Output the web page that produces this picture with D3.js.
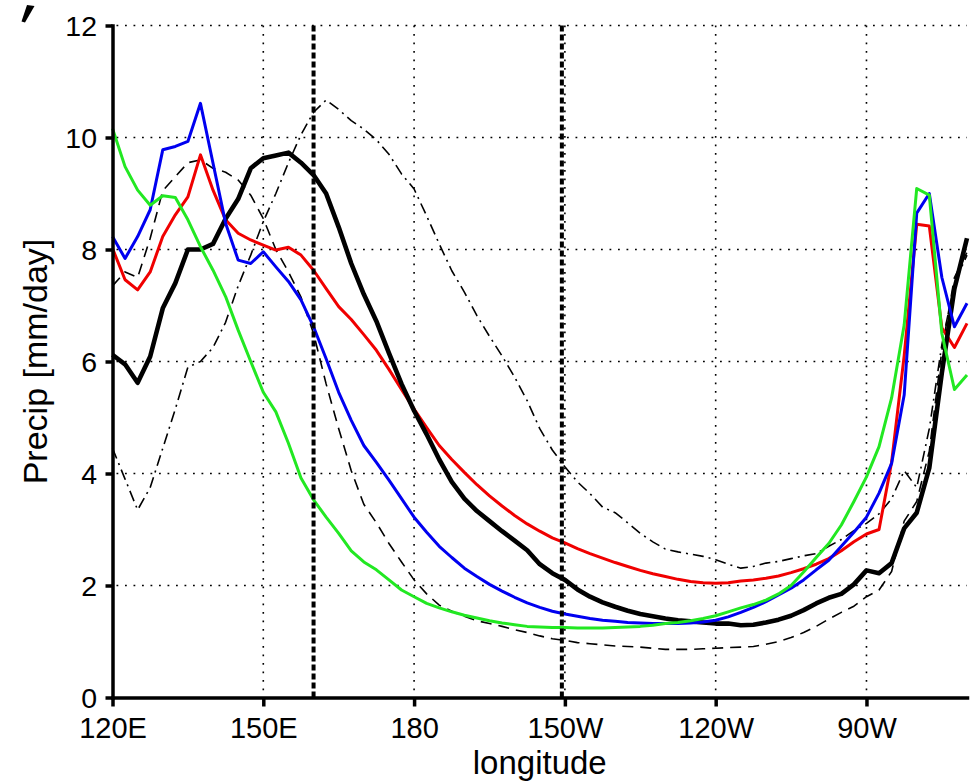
<!DOCTYPE html>
<html>
<head>
<meta charset="utf-8">
<script src="https://cdn.jsdelivr.net/npm/d3@7"></script>
<style>
  body { margin: 0; background: #fff; }
  svg { display: block; font-family: "Liberation Sans", Arial, Helvetica, sans-serif; }
  .grid line { stroke: #000; stroke-width: 1.6; stroke-dasharray: 1.8 6.7; }
</style>
</head>
<body>
<div id="chart"></div>
<script>
// longitude grid (degrees east), 2.5 degree spacing
const lon = [120, 122.5, 125, 127.5, 130, 132.5, 135, 137.5, 140, 142.5, 145, 147.5, 150, 152.5, 155, 157.5,
  160, 162.5, 165, 167.5, 170, 172.5, 175, 177.5, 180, 182.5, 185, 187.5, 190, 192.5, 195, 197.5,
  200, 202.5, 205, 207.5, 210, 212.5, 215, 217.5, 220, 222.5, 225, 227.5, 230, 232.5, 235, 237.5,
  240, 242.5, 245, 247.5, 250, 252.5, 255, 257.5, 260, 262.5, 265, 267.5, 270, 272.5, 275, 277.5,
  280, 282.5, 285, 287.5, 290];

// precipitation [mm/day]
const precipBlack = [6.12, 5.95, 5.62, 6.09, 6.95, 7.4, 8.0, 8.0, 8.1, 8.55, 8.9, 9.45, 9.63, 9.68, 9.73, 9.55,
  9.33, 9.0, 8.4, 7.75, 7.2, 6.72, 6.15, 5.6, 5.12, 4.7, 4.25, 3.85, 3.55, 3.33, 3.15, 2.97,
  2.8, 2.63, 2.38, 2.22, 2.1, 1.93, 1.8, 1.7, 1.62, 1.55, 1.49, 1.45, 1.41, 1.38, 1.36, 1.34,
  1.32, 1.32, 1.29, 1.3, 1.34, 1.39, 1.46, 1.56, 1.68, 1.78, 1.85, 2.02, 2.27, 2.22, 2.4, 3.02,
  3.3, 4.1, 5.8, 7.3, 8.2];
const precipRed = [8.02, 7.46, 7.28, 7.6, 8.23, 8.62, 8.94, 9.69, 9.06, 8.53, 8.29, 8.17, 8.08, 7.99, 8.04, 7.9,
  7.63, 7.3, 6.98, 6.75, 6.48, 6.2, 5.86, 5.5, 5.15, 4.82, 4.5, 4.25, 4.02, 3.8, 3.6, 3.42,
  3.25, 3.1, 2.97, 2.85, 2.76, 2.66, 2.57, 2.49, 2.41, 2.34, 2.27, 2.21, 2.16, 2.11, 2.07, 2.05,
  2.04, 2.05, 2.08, 2.1, 2.13, 2.17, 2.23, 2.3, 2.38, 2.48, 2.62, 2.78, 2.92, 3.0, 4.2, 6.1,
  8.45, 8.42, 6.6, 6.25, 6.68];
const precipBlue = [8.23, 7.84, 8.23, 8.71, 9.78, 9.84, 9.93, 10.61, 9.54, 8.47, 7.81, 7.75, 7.96, 7.69, 7.43, 7.1,
  6.62, 6.05, 5.45, 4.95, 4.5, 4.2, 3.88, 3.55, 3.22, 2.95, 2.7, 2.5, 2.31, 2.16, 2.02, 1.9,
  1.79, 1.69, 1.61, 1.54, 1.49, 1.45, 1.41, 1.38, 1.36, 1.34, 1.33, 1.32, 1.32, 1.32, 1.33, 1.35,
  1.38, 1.44, 1.52, 1.61, 1.71, 1.83, 1.95, 2.1, 2.28, 2.45, 2.7, 2.95, 3.22, 3.65, 4.18, 5.4,
  8.65, 9.0, 7.5, 6.62, 7.04];
const precipGreen = [10.16, 9.48, 9.06, 8.79, 8.96, 8.93, 8.53, 8.05, 7.63, 7.16, 6.56, 6.0, 5.45, 5.1, 4.54, 3.92,
  3.53, 3.22, 2.93, 2.62, 2.42, 2.28, 2.1, 1.92, 1.8, 1.68, 1.6, 1.53, 1.47, 1.42, 1.37, 1.33,
  1.3, 1.27, 1.26, 1.25, 1.25, 1.24, 1.24, 1.24, 1.25, 1.26, 1.27, 1.29, 1.32, 1.34, 1.37, 1.41,
  1.46, 1.53, 1.6, 1.66, 1.74, 1.85, 2.0, 2.24, 2.5, 2.75, 3.08, 3.5, 3.94, 4.48, 5.35, 6.65,
  9.09, 8.97, 6.5, 5.5, 5.76];
const precipDashed = [7.35, 7.6, 7.5, 8.2, 9.05, 9.3, 9.55, 9.6, 9.45, 9.38, 9.24, 8.97, 8.55, 8.0, 7.6, 7.15,
  6.5, 5.6, 4.8, 4.05, 3.45, 3.12, 2.75, 2.42, 2.1, 1.85, 1.65, 1.54, 1.45, 1.37, 1.32, 1.27,
  1.21, 1.16, 1.1, 1.05, 1.02, 0.98, 0.96, 0.94, 0.92, 0.91, 0.9, 0.88, 0.86, 0.86, 0.86, 0.87,
  0.88, 0.89, 0.9, 0.91, 0.95, 1.0, 1.07, 1.16, 1.27, 1.4, 1.52, 1.63, 1.8, 1.92, 2.25, 3.15,
  3.5, 4.4, 6.2, 7.5, 7.95];
const precipDashDot = [4.45, 3.9, 3.35, 3.75, 4.45, 5.15, 5.9, 6.0, 6.25, 6.7, 7.35, 7.9, 8.5, 9.0, 9.55, 10.05,
  10.45, 10.67, 10.5, 10.3, 10.15, 9.96, 9.7, 9.35, 9.08, 8.6, 8.1, 7.62, 7.24, 6.82, 6.45, 6.1,
  5.72, 5.3, 4.8, 4.42, 4.12, 3.85, 3.64, 3.4, 3.3, 3.12, 2.93, 2.78, 2.65, 2.6, 2.56, 2.52,
  2.46, 2.38, 2.31, 2.34, 2.4, 2.43, 2.48, 2.53, 2.57, 2.7, 2.82, 2.98, 3.11, 3.28, 3.55, 4.05,
  3.75, 4.8, 6.3, 7.4, 7.9];

// axis ticks and box boundaries
const xTicks = [120, 150, 180, 210, 240, 270];
const xTickLabels = ['120E', '150E', '180', '150W', '120W', '90W'];
const yTicks = [0, 2, 4, 6, 8, 10, 12];
const boxLon = [160, 209.4];

const width = 972;
const height = 781;
const margin = { top: 25.5, right: 5, bottom: 83.5, left: 112.5 };

const svg = d3.select('#chart')
  .append('svg')
  .attr('width', width)
  .attr('height', height);

const x = d3.scaleLinear().domain([120, 290]).range([margin.left, width - margin.right]);
const y = d3.scaleLinear().domain([0, 12]).range([height - margin.bottom, margin.top]);

// dotted grid
const grid = svg.append('g').attr('class', 'grid');
grid.selectAll('line.h')
  .data(yTicks.filter(d => d > 0))
  .enter()
  .append('line')
  .attr('class', 'h')
  .attr('x1', x(120) + 4)
  .attr('x2', x(290))
  .attr('y1', d => y(d))
  .attr('y2', d => y(d));
grid.selectAll('line.v')
  .data(xTicks.filter(d => d > 120))
  .enter()
  .append('line')
  .attr('class', 'v')
  .attr('x1', d => x(d))
  .attr('x2', d => x(d))
  .attr('y1', y(12))
  .attr('y2', y(0) - 4);

// curves
const series = [
  { name: 'dashdot', values: precipDashDot, color: '#000', width: 1.6, dash: '11 5 2 5' },
  { name: 'dashed', values: precipDashed, color: '#000', width: 1.6, dash: '11 7' },
  { name: 'red', values: precipRed, color: '#f00000', width: 3, dash: null },
  { name: 'black', values: precipBlack, color: '#000', width: 4.6, dash: null },
  { name: 'blue', values: precipBlue, color: '#0000f0', width: 3, dash: null },
  { name: 'green', values: precipGreen, color: '#22e822', width: 3, dash: null }
];

const line = d3.line()
  .x(d => x(d[0]))
  .y(d => y(d[1]));

svg.append('g')
  .attr('class', 'curves')
  .selectAll('path')
  .data(series)
  .enter()
  .append('path')
  .attr('fill', 'none')
  .attr('stroke', d => d.color)
  .attr('stroke-width', d => d.width)
  .attr('stroke-dasharray', d => d.dash)
  .attr('stroke-linejoin', 'round')
  .attr('d', d => line(lon.map((l, i) => [l, d.values[i]])));

// box boundaries
svg.append('g')
  .selectAll('line')
  .data(boxLon)
  .enter()
  .append('line')
  .attr('x1', d => x(d))
  .attr('x2', d => x(d))
  .attr('y1', y(12))
  .attr('y2', y(0))
  .attr('stroke', '#000')
  .attr('stroke-width', 4)
  .attr('stroke-dasharray', '6 3');

// axes
const xAxis = svg.append('g')
  .attr('transform', `translate(0,${y(0)})`)
  .call(d3.axisBottom(x)
    .tickValues(xTicks)
    .tickFormat((d, i) => xTickLabels[i])
    .tickSize(9)
    .tickSizeOuter(0)
    .tickPadding(11));

const yAxis = svg.append('g')
  .attr('transform', `translate(${x(120)},0)`)
  .call(d3.axisLeft(y)
    .tickValues(yTicks)
    .tickSize(7)
    .tickSizeOuter(0)
    .tickPadding(8.5));

[xAxis, yAxis].forEach(ax => {
  ax.select('.domain').attr('stroke', '#000').attr('stroke-width', 3.5).attr('stroke-linecap', 'square');
  ax.selectAll('.tick line').attr('stroke', '#000').attr('stroke-width', 3.5);
  ax.selectAll('.tick text')
    .attr('fill', '#000')
    .style('font-family', '"Liberation Sans", Arial, Helvetica, sans-serif');
});
xAxis.selectAll('.tick text').style('font-size', '29px');
yAxis.selectAll('.tick text').style('font-size', '28.5px').attr('dy', '0.36em');

// axis titles
svg.append('text')
  .attr('x', (x(120) + x(290)) / 2)
  .attr('y', 773.5)
  .attr('text-anchor', 'middle')
  .style('font-size', '33px')
  .text('longitude');

svg.append('text')
  .attr('transform', `translate(47,${(y(0) + y(12)) / 2}) rotate(-90)`)
  .attr('text-anchor', 'middle')
  .style('font-size', '34px')
  .text('Precip [mm/day]');

// remnant stroke of the cropped panel label
svg.append('path')
  .attr('d', 'M27,5 L34.5,6 L25,22.5 L21.5,21.5 Z')
  .attr('fill', '#000');
</script>
</body>
</html>
